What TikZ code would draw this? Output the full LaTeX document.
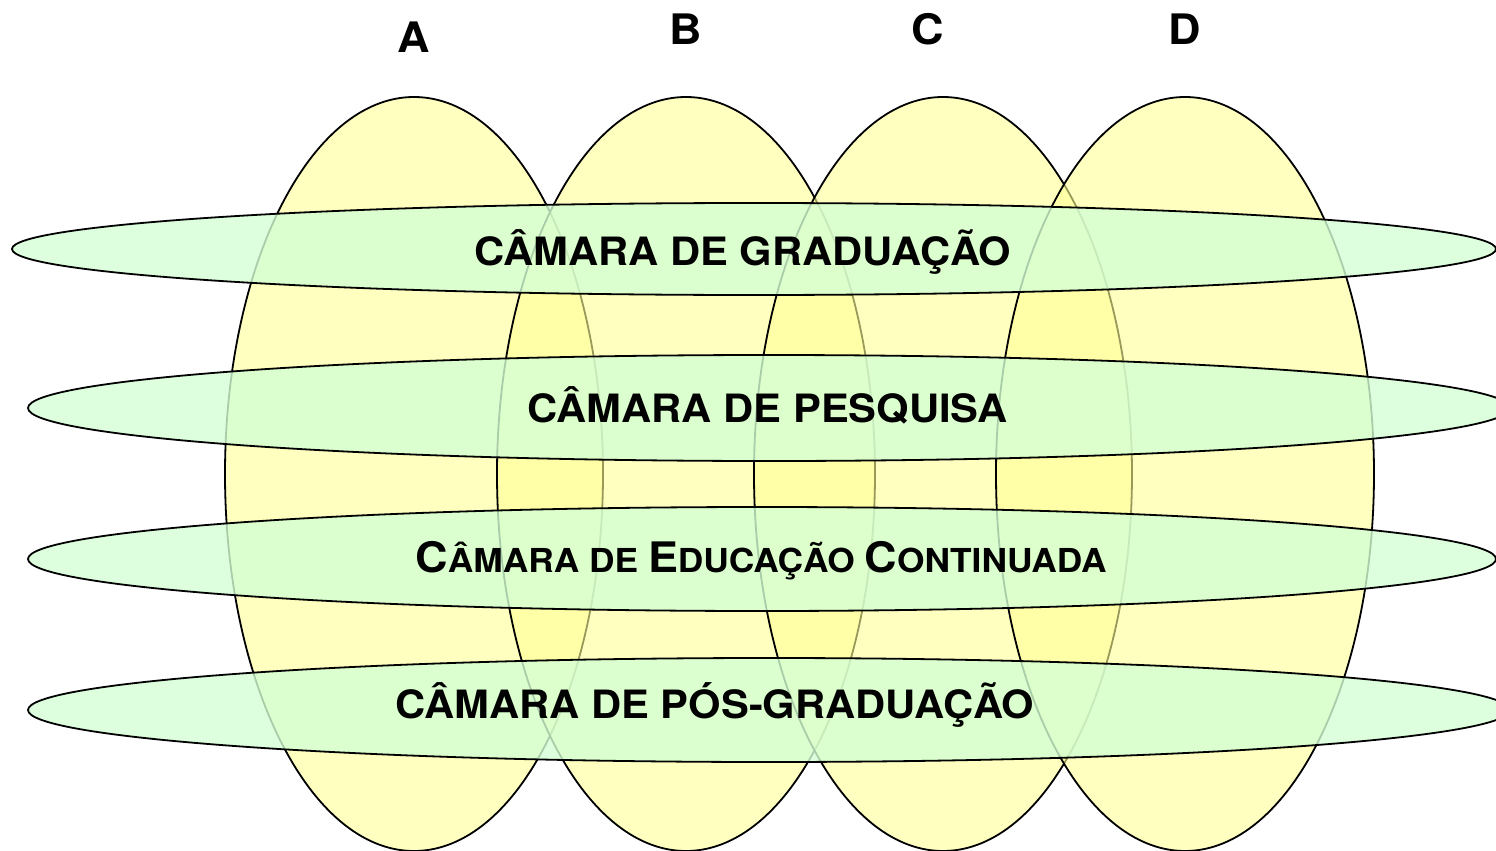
\documentclass[tikz,border=0pt]{standalone}
\usepackage{fontspec}
\newfontfamily\camfont[FakeStretch=1.07]{TeX Gyre Heros}
\newcommand\grandcap[1]{{\fontsize{21}{24}\selectfont #1}}
\newcommand\smallcap[1]{{\fontsize{16.5}{19}\selectfont #1}}

\definecolor{amarelo}{RGB}{255,255,150}
\definecolor{verde}{RGB}{212,255,212}

\tikzset{
    eixo/.style={fill=amarelo, fill opacity=0.6, draw=black, line width=0.9pt},
    camara/.style={fill=verde, fill opacity=0.8, draw=black, line width=0.9pt},
    rotulo/.style={font=\camfont\bfseries\fontsize{19.5}{22}\selectfont, inner sep=0pt, anchor=base},
    letra/.style={font=\camfont\bfseries\fontsize{21}{24}\selectfont, inner sep=0pt, anchor=base}
}

\begin{document}
\begin{tikzpicture}[x=0.5pt,y=0.5pt]
    % page size of the reference
    \useasboundingbox (0,0) rectangle (1496,-851);
    \clip (0,0) rectangle (1496,-851);
    % the four columns, drawn one after the other
    \foreach \cx in {414,686,943,1185}
        \path[eixo] (\cx,-474) ellipse [x radius=189, y radius=377];
    % the four chambers across the columns
    \path[camara] (754,-249) ellipse [x radius=742, y radius=46];
    \path[camara] (769,-408) ellipse [x radius=741, y radius=53];
    \path[camara] (762,-559) ellipse [x radius=734, y radius=52];
    \path[camara] (769,-710) ellipse [x radius=741, y radius=52];
    % column letters
    \node[letra] (colA) at (414,-53) {A};
    \node[letra] (colB) at (686,-45) {B};
    \node[letra] (colC) at (928,-45) {C};
    \node[letra] (colD) at (1185,-45) {D};
    % chamber names
    \node[rotulo] (grad) at (743,-265) {CÂMARA DE GRADUAÇÃO};
    \node[rotulo] (pesq) at (768,-422) {CÂMARA DE PESQUISA};
    \node[rotulo, font=\camfont\bfseries] (educ) at (761,-572)
        {\grandcap{C}\smallcap{ÂMARA DE }\grandcap{E}\smallcap{DUCAÇÃO }\grandcap{C}\smallcap{ONTINUADA}};
    \node[rotulo] (pos) at (715,-718) {CÂMARA DE PÓS-GRADUAÇÃO};
\end{tikzpicture}
\end{document}
